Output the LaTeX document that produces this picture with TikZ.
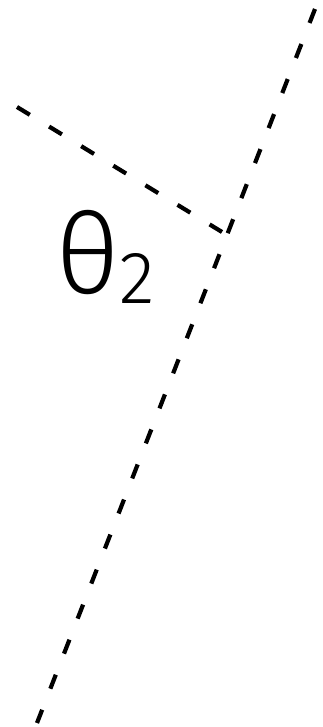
\documentclass[tikz,border=0pt]{standalone}
\usepackage{fontspec}
\setmainfont{TeX Gyre Heros}
\newfontfamily\fino{Fira Sans Light}
\usepackage{tikz}
\usetikzlibrary{calc}
\tikzset{
    tracejado/.style={
        line width=4.2pt,
        dash pattern=on 15pt off 22.6pt,
        line cap=butt
    },
    rotulo/.style={
        inner sep=0pt,
        anchor=base west,
        font=\fino
    }
}

\begin{document}
\begin{tikzpicture}[x=1pt, y=1pt]
        \useasboundingbox (0,0) rectangle (322,727);

        \coordinate (topo) at (315,718);
        \coordinate (base) at (37,4);
        \coordinate (inicio) at (17,620);
        \coordinate (vertice) at (222,495);

        \draw[tracejado] (topo) -- (base);
        \draw[tracejado] (inicio) -- (vertice);

        \node[rotulo] (theta) at (56,433) {\fontsize{112}{112}\selectfont θ\raisebox{-10pt}{\fontsize{74}{74}\selectfont 2}};
    \end{tikzpicture}
\end{document}
